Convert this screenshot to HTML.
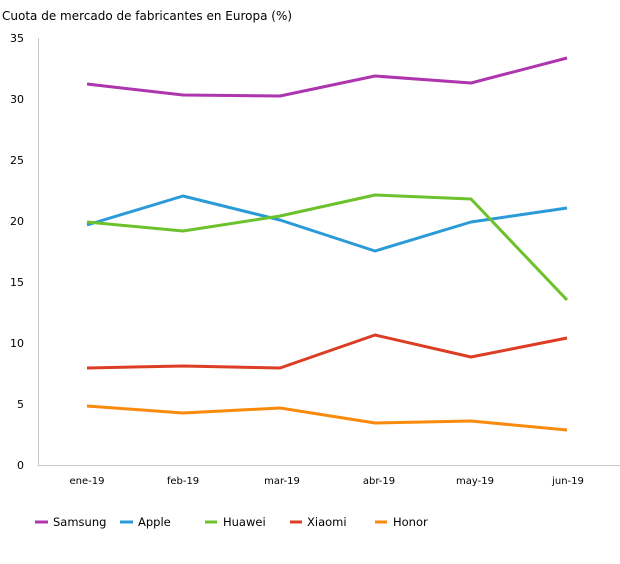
<!DOCTYPE html>
<html><head><meta charset="utf-8"><style>body{margin:0;background:#fff}</style></head><body>
<svg width="620" height="559" xmlns="http://www.w3.org/2000/svg" font-family="DejaVu Sans, Liberation Sans, sans-serif">
<text x="2" y="20" font-size="12" fill="#000">Cuota de mercado de fabricantes en Europa (%)</text>
<g font-size="11" fill="#000" text-anchor="end">
<text x="24" y="42">35</text><text x="24" y="103">30</text><text x="24" y="164">25</text><text x="24" y="225">20</text><text x="24" y="286">15</text><text x="24" y="347">10</text><text x="24" y="408">5</text><text x="24" y="469">0</text>
</g>
<line x1="38.5" y1="38" x2="38.5" y2="465" stroke="#c8c8c8"/>
<line x1="38" y1="465.5" x2="620" y2="465.5" stroke="#c8c8c8"/>
<g font-size="10" fill="#000" text-anchor="middle">
<text x="87" y="484">ene-19</text><text x="183" y="484">feb-19</text><text x="282" y="484">mar-19</text><text x="379" y="484">abr-19</text><text x="475" y="484">may-19</text><text x="568" y="484">jun-19</text>
</g>
<g fill="none" stroke-width="3" stroke-linejoin="round">
<polyline stroke="#ad35ad" points="87,84 183,95 280,96 375,76 471,83 567,58"/>
<polyline stroke="#2a9ad8" points="87,225 183,196 280,220 375,251 471,222 567,208"/>
<polyline stroke="#6cc22c" points="87,222 183,231 280,216 375,195 471,199 567,300"/>
<polyline stroke="#dc3d24" points="87,368 183,366 280,368 375,335 471,357 567,338"/>
<polyline stroke="#f98a0c" points="87,406 183,413 280,408 375,423 471,421 567,430"/>
</g>
<g stroke-width="3">
<line x1="35" y1="522" x2="48" y2="522" stroke="#ad35ad"/>
<line x1="120" y1="522" x2="133" y2="522" stroke="#2a9ad8"/>
<line x1="205" y1="522" x2="217" y2="522" stroke="#6cc22c"/>
<line x1="290" y1="522" x2="302" y2="522" stroke="#dc3d24"/>
<line x1="375" y1="522" x2="387" y2="522" stroke="#f98a0c"/>
</g>
<g font-size="11.5" fill="#000">
<text x="53" y="526">Samsung</text><text x="138" y="526">Apple</text><text x="223" y="526">Huawei</text><text x="307" y="526">Xiaomi</text><text x="393" y="526">Honor</text>
</g>
</svg>
</body></html>
